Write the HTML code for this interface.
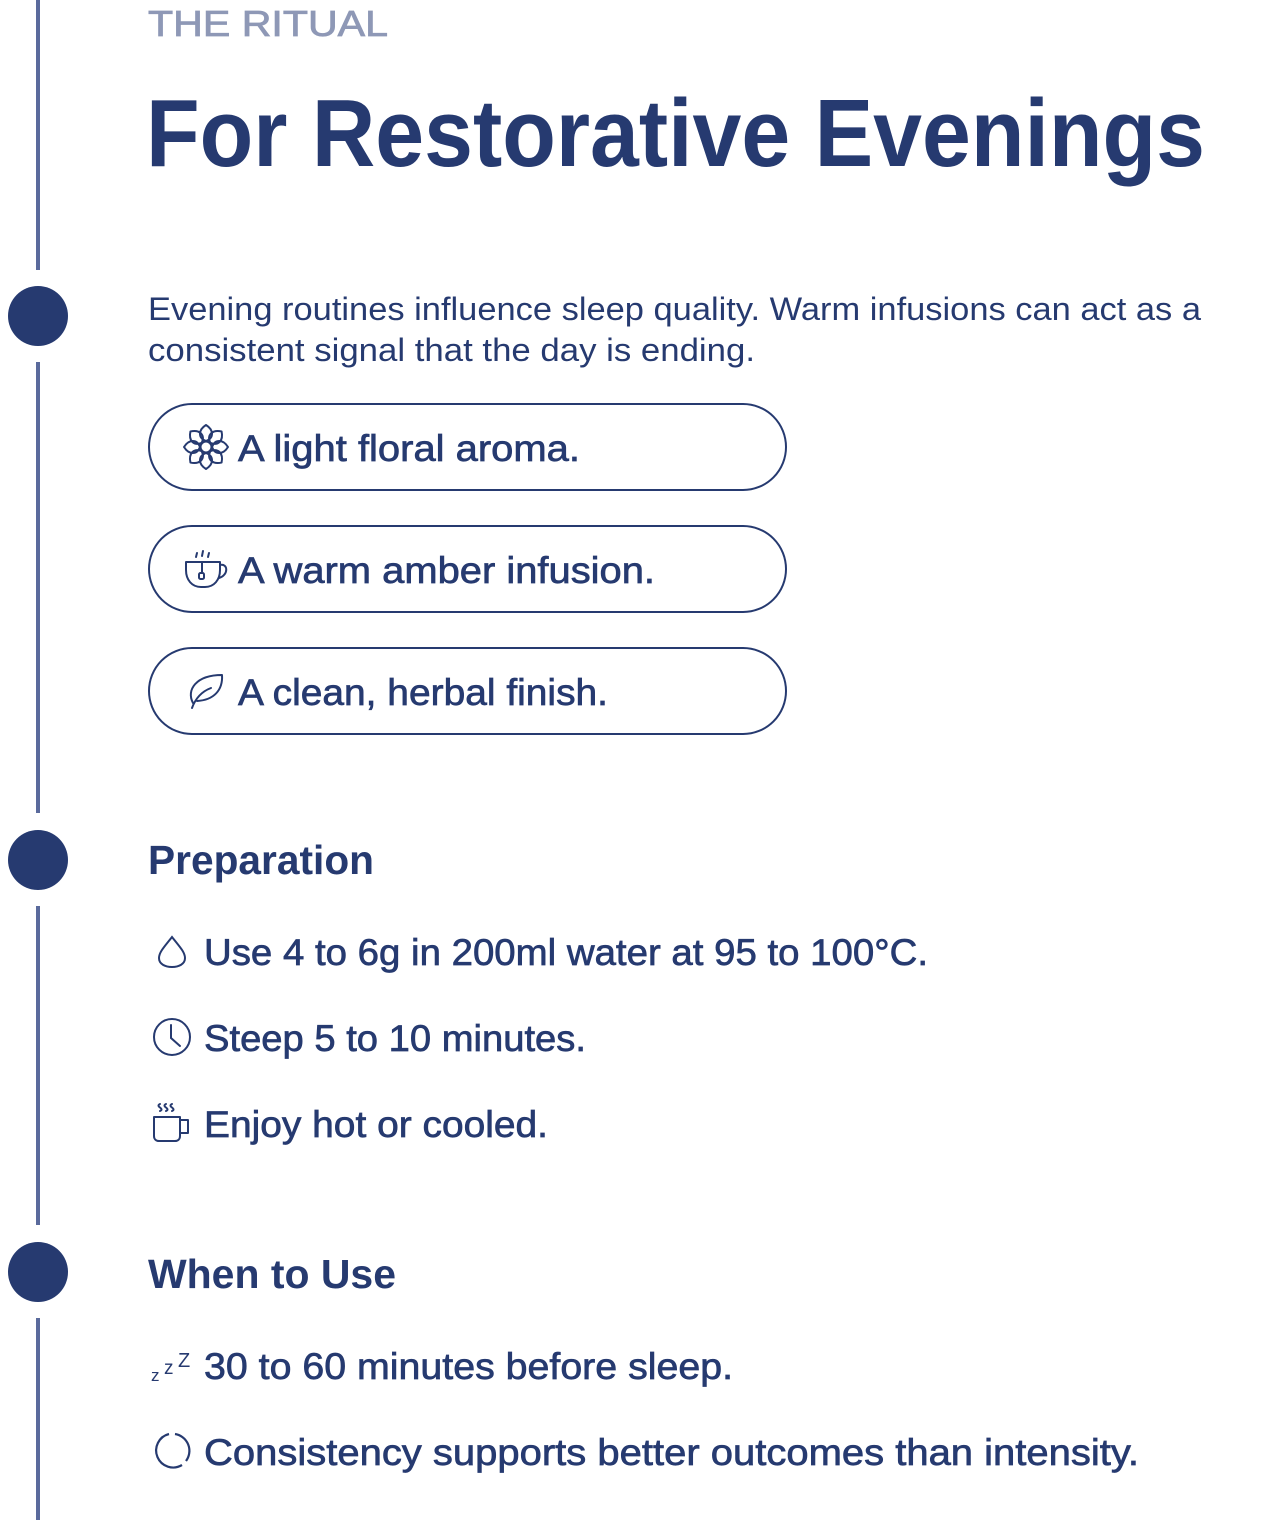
<!DOCTYPE html>
<html><head><meta charset="utf-8"><style>
html,body{margin:0;padding:0;background:#fff;}
svg{display:block;}
text{font-family:"Liberation Sans",sans-serif;fill:#263a70;}
.m{stroke:#263a70;stroke-width:0.7;}
</style></head><body>
<svg width="1266" height="1520" viewBox="0 0 1266 1520" xmlns="http://www.w3.org/2000/svg">
<g fill="#5a6a9c">
<rect x="36" y="0" width="4" height="270"/>
<rect x="36" y="362" width="4" height="451"/>
<rect x="36" y="906" width="4" height="319"/>
<rect x="36" y="1318" width="4" height="202"/>
</g>
<g fill="#263a70">
<circle cx="38" cy="316" r="30"/>
<circle cx="38" cy="860" r="30"/>
<circle cx="38" cy="1272" r="30"/>
</g>

<text x="148" y="36" font-size="36" style="fill:#8e98b6;stroke:#8e98b6;stroke-width:0.8" textLength="240" lengthAdjust="spacingAndGlyphs">THE RITUAL</text>
<text x="146" y="166" font-size="96" font-weight="bold" textLength="1059" lengthAdjust="spacingAndGlyphs">For Restorative Evenings</text>

<text x="148" y="320" font-size="32" textLength="1053" lengthAdjust="spacingAndGlyphs">Evening routines influence sleep quality. Warm infusions can act as a</text>
<text x="148" y="361" font-size="32" textLength="607" lengthAdjust="spacingAndGlyphs">consistent signal that the day is ending.</text>

<g fill="none" stroke="#263a70" stroke-width="2">
<rect x="149" y="404" width="637" height="86" rx="43"/>
<rect x="149" y="526" width="637" height="86" rx="43"/>
<rect x="149" y="648" width="637" height="86" rx="43"/>
</g>
<text class="m" x="238" y="461" font-size="37" textLength="342" lengthAdjust="spacingAndGlyphs">A light floral aroma.</text>
<text class="m" x="238" y="583" font-size="37" textLength="417" lengthAdjust="spacingAndGlyphs">A warm amber infusion.</text>
<text class="m" x="238" y="705" font-size="37" textLength="370" lengthAdjust="spacingAndGlyphs">A clean, herbal finish.</text>

<g fill="none" stroke="#263a70" stroke-width="2" stroke-linejoin="round" transform="translate(206,447)">
<circle r="5.5"/>
<g id="pet"><path d="M0,-6 C-8,-9 -8,-17 0,-22 C8,-17 8,-9 0,-6Z"/></g>
<use href="#pet" transform="rotate(45)"/><use href="#pet" transform="rotate(90)"/><use href="#pet" transform="rotate(135)"/>
<use href="#pet" transform="rotate(180)"/><use href="#pet" transform="rotate(225)"/><use href="#pet" transform="rotate(270)"/><use href="#pet" transform="rotate(315)"/>
</g>
<g fill="none" stroke="#263a70" stroke-width="2" stroke-linecap="round" stroke-linejoin="round">
<path d="M186,562 H220 V570 C220,580 214,587 205,587 H201 C192,587 186,580 186,570 Z"/>
<path d="M220,565 C228,563 229,575 219,578"/>
<path d="M202,562 V573"/><rect x="199" y="573" width="5" height="6" rx="1.5"/>
<path d="M196,557 l1,-4 M202,556 l1,-5 M208,557 l1,-4"/>
</g>
<g fill="none" stroke="#263a70" stroke-width="2" stroke-linecap="round" stroke-linejoin="round">
<path d="M193,703 C186,690 196,675 222,675 C223,690 214,700 197,701"/>
<path d="M192,708 C196,697 203,691 211,688"/>
</g>

<text x="148" y="874" font-size="41" font-weight="bold" textLength="226" lengthAdjust="spacingAndGlyphs">Preparation</text>
<text class="m" x="204" y="965" font-size="37" textLength="724" lengthAdjust="spacingAndGlyphs">Use 4 to 6g in 200ml water at 95 to 100°C.</text>
<text class="m" x="204" y="1051" font-size="37" textLength="382" lengthAdjust="spacingAndGlyphs">Steep 5 to 10 minutes.</text>
<text class="m" x="204" y="1137" font-size="37" textLength="344" lengthAdjust="spacingAndGlyphs">Enjoy hot or cooled.</text>

<path d="M172,937 C165,946 159,952 159,958 C159,964 165,967 172,967 C179,967 185,964 185,958 C185,952 179,946 172,937Z" fill="none" stroke="#263a70" stroke-width="2"/>
<g fill="none" stroke="#263a70" stroke-width="2" stroke-linecap="round">
<circle cx="172" cy="1037" r="18"/><path d="M171,1025 V1038 L180,1046"/>
</g>
<g fill="none" stroke="#263a70" stroke-width="2" stroke-linejoin="round" stroke-linecap="round">
<path d="M154,1117 H180 V1136 C180,1139 178,1141 175,1141 H159 C156,1141 154,1139 154,1136 Z"/>
<path d="M180,1120 H188 V1133 H180"/>
<path d="M160,1104 c-2,1 -2,2 0,3.5 c2,1.5 2,2.5 0,3.5 M166,1104 c-2,1 -2,2 0,3.5 c2,1.5 2,2.5 0,3.5 M172,1104 c-2,1 -2,2 0,3.5 c2,1.5 2,2.5 0,3.5"/>
</g>

<text x="148" y="1288" font-size="41" font-weight="bold" textLength="248" lengthAdjust="spacingAndGlyphs">When to Use</text>
<text x="151" y="1381" font-size="17">z</text>
<text x="164" y="1374" font-size="19">z</text>
<text x="178" y="1367" font-size="20">Z</text>
<text class="m" x="204" y="1379" font-size="37" textLength="529" lengthAdjust="spacingAndGlyphs">30 to 60 minutes before sleep.</text>
<path d="M175,1434 A17,17 0 0 1 186,1461 M182,1465 A17,17 0 1 1 169,1434" fill="none" stroke="#263a70" stroke-width="2.2"/>
<text class="m" x="204" y="1465" font-size="37" textLength="935" lengthAdjust="spacingAndGlyphs">Consistency supports better outcomes than intensity.</text>
</svg>
</body></html>
